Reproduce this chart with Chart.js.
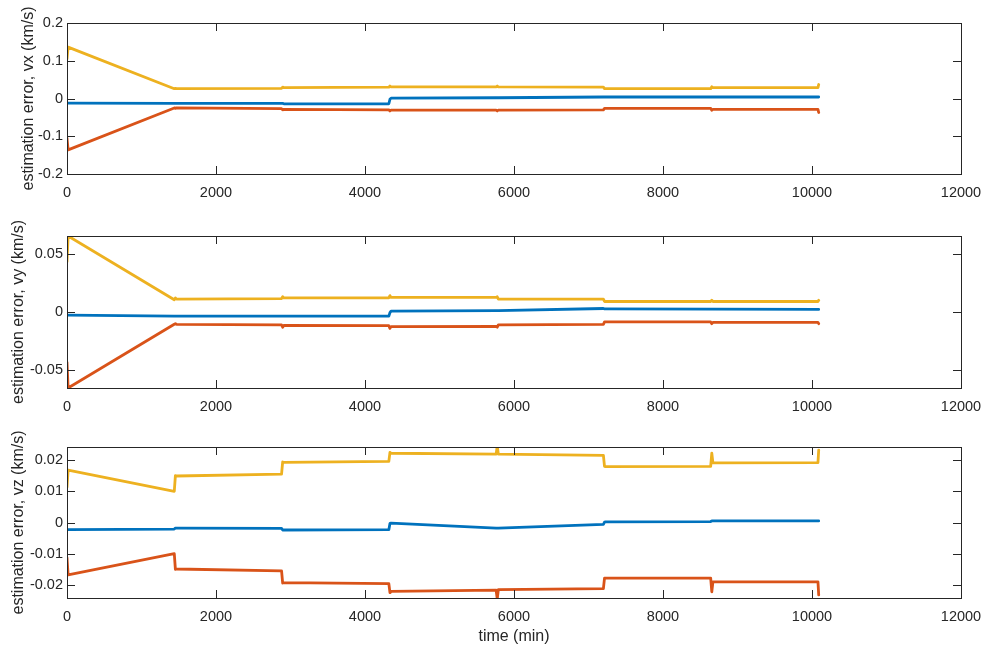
<!DOCTYPE html>
<html>
<head>
<meta charset="utf-8">
<script src="https://cdn.jsdelivr.net/npm/chart.js@4.4.1/dist/chart.umd.min.js"></script>
<style>
  body { margin: 0; background: #fff; }
  .panel { position: absolute; left: 0; }
</style>
</head>
<body>
<div class="panel" style="top:0px"><canvas id="cvx" width="988" height="200"></canvas></div>
<div class="panel" style="top:212px"><canvas id="cvy" width="988" height="200"></canvas></div>
<div class="panel" style="top:422px"><canvas id="cvz" width="988" height="227"></canvas></div>
<script>
// time samples (min): update every 1440 min, with a short spike right after each update
var time = [0, 15, 1440, 1455, 1470, 2880, 2895, 2910, 4320, 4335, 4350, 5760, 5775, 5790,
            7200, 7215, 7230, 8640, 8655, 8670, 10080, 10090];

// vx
var vxErr   = [-0.012, -0.012, -0.013, -0.013, -0.013, -0.013, -0.013, -0.014, -0.014, -0.002, 0.001,
               0.002, 0.002, 0.002, 0.004, 0.004, 0.004, 0.004, 0.004, 0.004, 0.004, 0.004];
var vxLower = [-0.105, -0.136, -0.025, -0.026, -0.025, -0.027, -0.030, -0.029, -0.030, -0.033, -0.031,
               -0.031, -0.033, -0.031, -0.030, -0.026, -0.026, -0.026, -0.031, -0.029, -0.029, -0.037];
var vxUpper = [0.105, 0.136, 0.026, 0.027, 0.026, 0.027, 0.030, 0.029, 0.030, 0.033, 0.031,
               0.031, 0.033, 0.031, 0.030, 0.026, 0.026, 0.026, 0.031, 0.029, 0.029, 0.037];

// vy
var vyErr   = [-0.0027, -0.0027, -0.0035, -0.0035, -0.0035, -0.0036, -0.0036, -0.0036, -0.0036, -0.0005, 0.0008,
               0.0012, 0.0012, 0.0012, 0.0030, 0.0027, 0.0027, 0.0025, 0.0025, 0.0025, 0.0022, 0.0022];
var vyLower = [-0.043, -0.065, -0.0105, -0.010, -0.0105, -0.011, -0.013, -0.0115, -0.0117, -0.014, -0.0125,
               -0.0123, -0.013, -0.011, -0.0105, -0.0085, -0.0085, -0.0085, -0.010, -0.0088, -0.0088, -0.010];
var vyUpper = [0.043, 0.065, 0.0105, 0.012, 0.011, 0.0115, 0.013, 0.012, 0.012, 0.014, 0.0125,
               0.0125, 0.013, 0.011, 0.011, 0.009, 0.009, 0.009, 0.010, 0.009, 0.009, 0.010];

// vz
var vzErr   = [-0.0023, -0.0023, -0.0021, -0.0018, -0.0018, -0.0019, -0.0024, -0.0024, -0.0023, -0.0003, -0.0002,
               -0.0018, -0.0018, -0.0018, -0.0006, 0.0001, 0.0002, 0.0003, 0.0005, 0.0005, 0.0005, 0.0005];
var vzLower = [-0.0113, -0.0168, -0.0100, -0.0150, -0.0149, -0.0155, -0.0194, -0.0193, -0.0196, -0.0225, -0.0221,
               -0.0217, -0.0245, -0.0215, -0.0212, -0.0178, -0.0178, -0.0178, -0.0222, -0.0190, -0.0190, -0.0232];
var vzUpper = [0.0113, 0.0168, 0.0100, 0.0150, 0.0149, 0.0155, 0.0194, 0.0193, 0.0196, 0.0225, 0.0222,
               0.0219, 0.0245, 0.0219, 0.0215, 0.0180, 0.0179, 0.0180, 0.0222, 0.0191, 0.0192, 0.0232];

// axes
var xTicks = [0, 2000, 4000, 6000, 8000, 10000, 12000];
var vxTicks = [-0.2, -0.1, 0, 0.1, 0.2];
var vyTicks = [-0.05, 0, 0.05];
var vzTicks = [-0.02, -0.01, 0, 0.01, 0.02];

var AX = '#262626';
var FONT = "'Liberation Sans', Arial, Helvetica, sans-serif";

function pts(vals) {
  return time.map(function (t, i) { return { x: t, y: vals[i] }; });
}

// MATLAB-like box with inward ticks on all four sides
var boxPlugin = {
  id: 'box',
  afterDraw: function (chart) {
    var a = chart.chartArea, c = chart.ctx, len = 8;
    var xs = chart.scales.x, ys = chart.scales.y;
    c.save();
    c.strokeStyle = AX;
    c.lineWidth = 1;
    c.strokeRect(Math.round(a.left) + 0.5, Math.round(a.top) + 0.5,
                 Math.round(a.right - a.left), Math.round(a.bottom - a.top));
    c.beginPath();
    xs.ticks.forEach(function (t) {
      var px = Math.round(xs.getPixelForValue(t.value)) + 0.5;
      c.moveTo(px, a.bottom); c.lineTo(px, a.bottom - len);
      c.moveTo(px, a.top); c.lineTo(px, a.top + len);
    });
    ys.ticks.forEach(function (t) {
      var py = Math.round(ys.getPixelForValue(t.value)) + 0.5;
      c.moveTo(a.left, py); c.lineTo(a.left + len, py);
      c.moveTo(a.right, py); c.lineTo(a.right - len, py);
    });
    c.stroke();
    c.restore();
  }
};

function makeChart(id, err, lower, upper, yMin, yMax, yTicks, yLabel, opts) {
  var ctx = document.getElementById(id).getContext('2d');
  return new Chart(ctx, {
    type: 'line',
    data: {
      datasets: [
        { data: pts(err),   borderColor: '#0072BD' },
        { data: pts(lower), borderColor: '#D95319' },
        { data: pts(upper), borderColor: '#EDB120' }
      ]
    },
    options: {
      responsive: false,
      animation: false,
      events: [],
      layout: { padding: { top: opts.padTop, right: 27, left: 0, bottom: 0 } },
      elements: {
        line: { borderWidth: 2.8, tension: 0, fill: false, borderJoinStyle: 'round', borderCapStyle: 'round' },
        point: { radius: 0 }
      },
      plugins: { legend: { display: false }, tooltip: { enabled: false } },
      scales: {
        x: {
          type: 'linear', min: 0, max: 12000,
          grid: { display: false, drawTicks: false },
          border: { display: false },
          afterBuildTicks: function (s) { s.ticks = xTicks.map(function (v) { return { value: v }; }); },
          afterFit: function (s) {
            s.height = opts.xHeight;
            s.paddingLeft = 0;
            s.paddingRight = 0;
          },
          ticks: { color: AX, padding: 10, maxRotation: 0, font: { family: FONT, size: 14.5 },
                   callback: function (v) { return String(v); } },
          title: { display: !!opts.xTitle, text: opts.xTitle || '', color: AX,
                   font: { family: FONT, size: 16 }, padding: { top: 0, bottom: 3 } }
        },
        y: {
          type: 'linear', min: yMin, max: yMax,
          grid: { display: false, drawTicks: false },
          border: { display: false },
          afterBuildTicks: function (s) { s.ticks = yTicks.map(function (v) { return { value: v }; }); },
          afterFit: function (s) { s.width = 67; },
          ticks: { color: AX, padding: 4, font: { family: FONT, size: 14.5 },
                   callback: function (v) { return String(v); } },
          title: { display: true, text: yLabel, color: AX,
                   font: { family: FONT, size: 16 }, padding: { top: opts.titlePad, bottom: 0 } }
        }
      }
    },
    plugins: [boxPlugin]
  });
}

makeChart('cvx', vxErr, vxLower, vxUpper, -0.2, 0.2, vxTicks, 'estimation error, vx (km/s)',
          { padTop: 23, xHeight: 26, titlePad: 18.5 });
makeChart('cvy', vyErr, vyLower, vyUpper, -0.065, 0.065, vyTicks, 'estimation error, vy (km/s)',
          { padTop: 24, xHeight: 24, titlePad: 9 });
makeChart('cvz', vzErr, vzLower, vzUpper, -0.0242, 0.0242, vzTicks, 'estimation error, vz (km/s)',
          { padTop: 25, xHeight: 51, titlePad: 9, xTitle: 'time (min)' });
</script>
</body>
</html>
